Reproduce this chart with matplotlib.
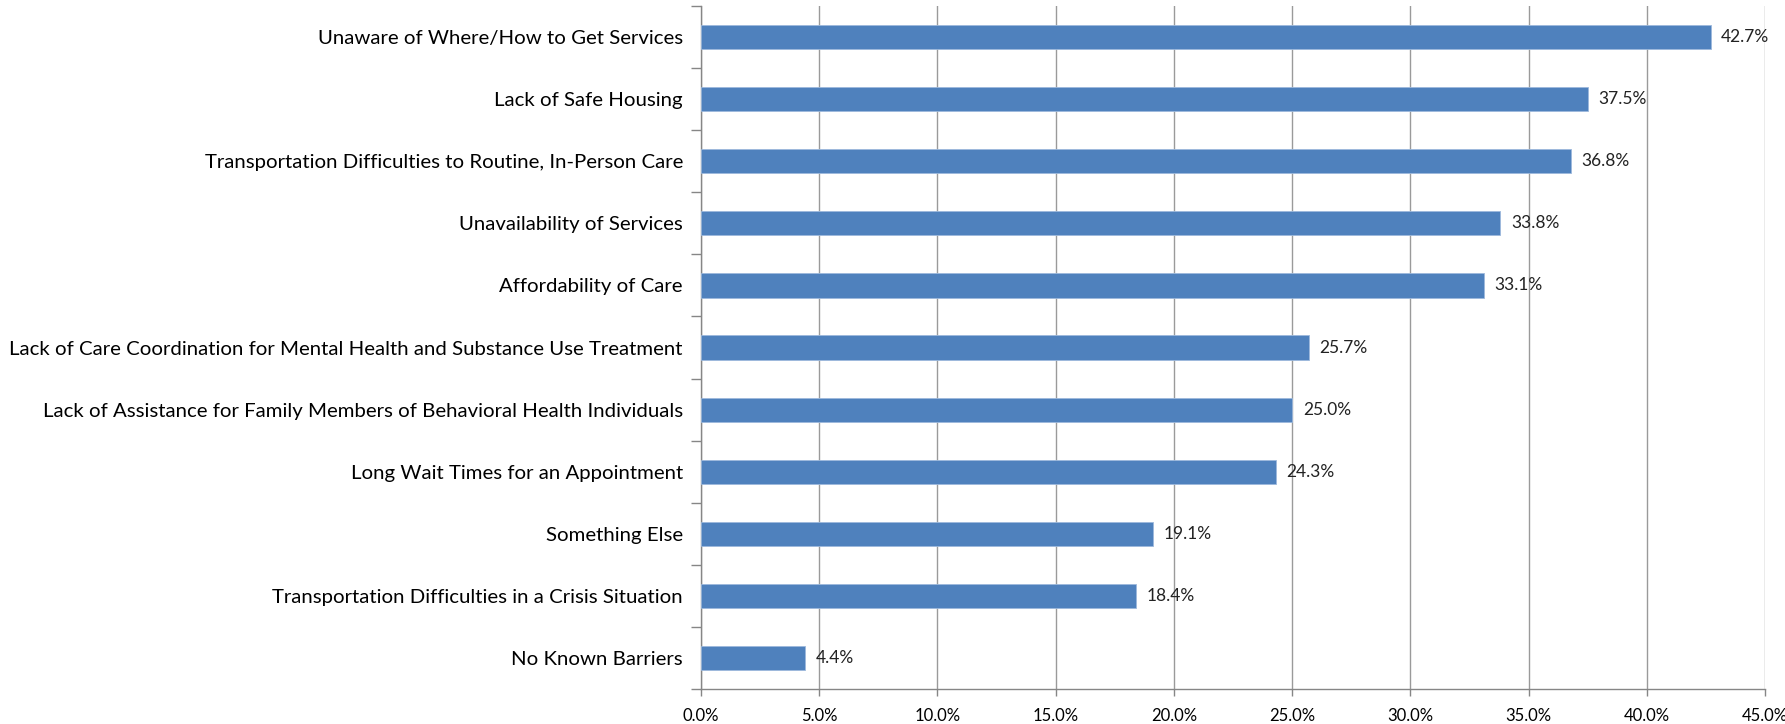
import matplotlib
matplotlib.use("Agg")
import matplotlib.pyplot as plt
from matplotlib.ticker import MultipleLocator, FuncFormatter, FixedLocator

# Barriers to behavioral health care, share of respondents (%)
barriers = [
    "Unaware of Where/How to Get Services",
    "Lack of Safe Housing",
    "Transportation Difficulties to Routine, In-Person Care",
    "Unavailability of Services",
    "Affordability of Care",
    "Lack of Care Coordination for Mental Health and Substance Use Treatment",
    "Lack of Assistance for Family Members of Behavioral Health Individuals",
    "Long Wait Times for an Appointment",
    "Something Else",
    "Transportation Difficulties in a Crisis Situation",
    "No Known Barriers",
]
percent = [42.7, 37.5, 36.8, 33.8, 33.1, 25.7, 25.0, 24.3, 19.1, 18.4, 4.4]

plt.rcParams["font.family"] = ["Lato", "DejaVu Sans"]

fig = plt.figure(figsize=(17.85, 7.24), dpi=100)
ax = fig.add_axes([0.3927, 0.0483, 0.5961, 0.9434])

ypos = list(range(len(barriers)))[::-1]
ax.barh(ypos, percent, height=0.39, color="#4F81BD", edgecolor="#9DB9DC", linewidth=0.6, zorder=3)

for y, v in zip(ypos, percent):
    ax.text(v + 0.45, y, f"{v:.1f}%", va="center", ha="left", fontsize=12.5, color="#222222", zorder=4)

ax.set_xlim(0, 45)
ax.set_ylim(-0.5, len(barriers) - 0.5)
ax.xaxis.set_major_locator(MultipleLocator(5))
ax.xaxis.set_major_formatter(FuncFormatter(lambda x, _: f"{x:.1f}%"))

ax.set_yticks(ypos)
ax.set_yticklabels(barriers, fontsize=14.7)
ax.tick_params(axis="y", length=0, pad=13)
# category boundary ticks on the left axis
ax.yaxis.set_minor_locator(FixedLocator([i - 0.5 for i in range(len(barriers) + 1)]))
ax.tick_params(axis="y", which="minor", length=7, color="#868686", width=1)
ax.tick_params(axis="x", length=5, color="#868686", width=1, labelsize=12, pad=9)

ax.grid(axis="x", color="#9A9A9A", linewidth=1, zorder=0)
for side in ["top", "right"]:
    ax.spines[side].set_visible(False)
for side in ["left", "bottom"]:
    ax.spines[side].set_color("#868686")
    ax.spines[side].set_linewidth(1)

fig.savefig("out.png", dpi=100)
